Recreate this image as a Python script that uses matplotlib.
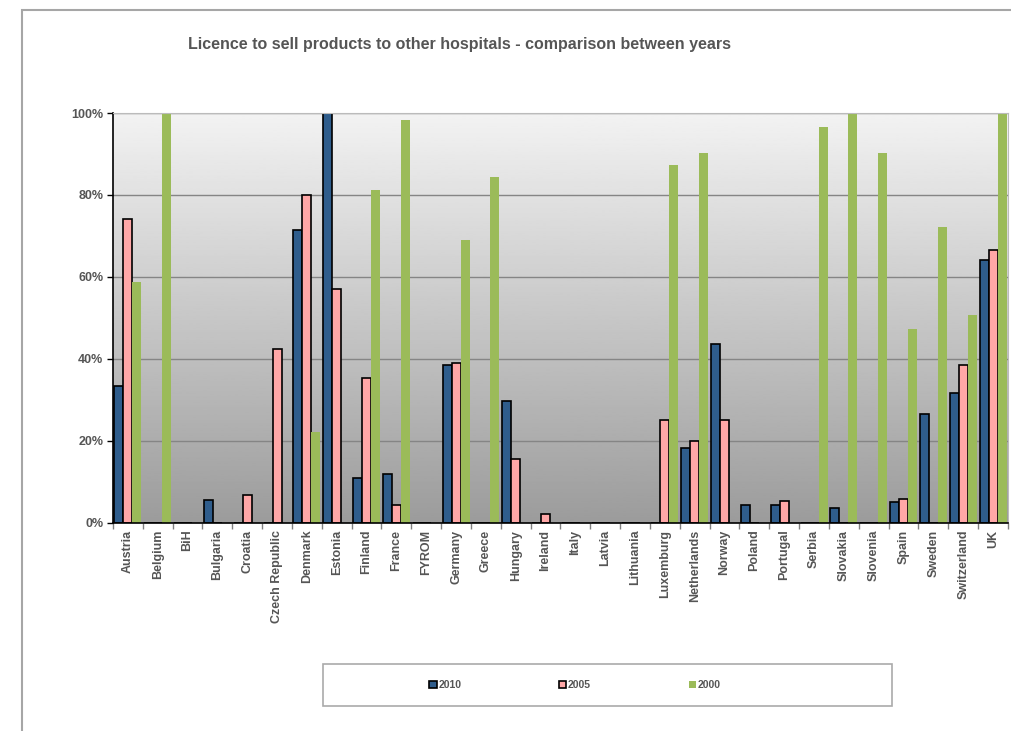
import numpy as np
import matplotlib.pyplot as plt
from matplotlib.patches import Rectangle
from matplotlib.ticker import FuncFormatter

plt.rcParams['font.family'] = ['Liberation Sans', 'DejaVu Sans']

# categories and values (percent)
countries = ['Austria', 'Belgium', 'BiH', 'Bulgaria', 'Croatia', 'Czech Republic',
             'Denmark', 'Estonia', 'Finland', 'France', 'FYROM', 'Germany', 'Greece',
             'Hungary', 'Ireland', 'Italy', 'Latvia', 'Lithuania', 'Luxemburg',
             'Netherlands', 'Norway', 'Poland', 'Portugal', 'Serbia', 'Slovakia',
             'Slovenia', 'Spain', 'Sweden', 'Switzerland', 'UK']
y2010 = [33.4, 0, 0, 5.5, 0, 0, 71.4, 100, 10.8, 12.0, 0, 38.4, 0, 29.7, 0, 0, 0, 0,
         0, 18.2, 43.7, 4.4, 4.2, 0, 3.5, 0, 5.1, 26.6, 31.6, 64.1]
y2005 = [74.2, 0, 0, 0, 6.8, 42.5, 80.0, 57.1, 35.3, 4.3, 0, 39.0, 0, 15.5, 2.1, 0, 0, 0,
         25.0, 20.0, 25.0, 0, 5.3, 0, 0, 0, 5.9, 0, 38.4, 66.6]
y2000 = [58.8, 100, 0, 0, 0, 0, 22.2, 0, 81.2, 98.4, 0, 69.1, 84.4, 0, 0, 0, 0, 0,
         87.2, 90.2, 0, 0, 0, 96.6, 100, 90.2, 47.2, 72.2, 50.7, 100]
years = ['2010', '2005', '2000']
colors = ['#2F5D8C', '#FFA7A7', '#9BBB59']

W, H = 1012, 731
fig = plt.figure(figsize=(W / 100, H / 100), dpi=100)
ax = fig.add_axes([113 / W, 1 - 522.7 / H, (1008 - 113) / W, (522.7 - 113) / H])

x = np.arange(len(countries))
bw = 0.3

# gradient background
grad = np.linspace(0.61, 0.95, 256).reshape(-1, 1)
ax.imshow(grad, cmap='gray', vmin=0, vmax=1, aspect='auto', origin='lower',
          extent=(-0.5, len(countries) - 0.5, 0, 100), zorder=0)

for i, (vals, c) in enumerate(zip([y2010, y2005, y2000], colors)):
    if i < 2:
        ax.bar(x + (i - 1) * bw, vals, bw, color=c, edgecolor='black', linewidth=1.2,
               label=years[i], zorder=3)
    else:
        ax.bar(x + (i - 1) * bw, vals, bw, color=c, linewidth=0, label=years[i], zorder=3)

ax.set_xlim(-0.5, len(countries) - 0.5)
ax.set_ylim(0, 100)
ax.set_yticks([0, 20, 40, 60, 80, 100])
ax.yaxis.set_major_formatter(FuncFormatter(lambda v, p: f'{v:.0f}%'))
ax.grid(axis='y', color='#858585', linewidth=1, zorder=1)
ax.set_axisbelow(False)

ax.set_xticks(x)
ax.set_xticklabels(countries, rotation=90)
ax.set_xticks(np.arange(-0.5, len(countries)), minor=True)
ax.tick_params(axis='x', which='major', length=0, pad=5)
ax.tick_params(axis='x', which='minor', length=4, color='#808080', width=1)
ax.tick_params(axis='y', length=4, width=1, pad=3)
for lab in ax.get_xticklabels() + ax.get_yticklabels():
    lab.set_fontsize(9)
    lab.set_fontweight('bold')
    lab.set_color('#555555')

ax.spines['left'].set_color('black')
ax.spines['left'].set_linewidth(1.2)
ax.spines['bottom'].set_color('black')
ax.spines['bottom'].set_linewidth(1.2)
ax.spines['top'].set_color('#BBBBBB')
ax.spines['right'].set_color('#BBBBBB')
for s in ax.spines.values():
    s.set_zorder(5)

fig.text(460 / W, 1 - 44 / H, 'Licence to sell products to other hospitals - comparison between years',
         ha='center', va='center', fontsize=11.5, fontweight='bold', color='#555555')

# outer chart frame and legend box
fig.patches.append(Rectangle((22.5 / W, -0.1), 2, 1 - 9.5 / H + 0.1, transform=fig.transFigure,
                             fill=False, edgecolor='#A6A6A6', linewidth=1.5))
fig.patches.append(Rectangle((323.5 / W, 1 - 706 / H), (892 - 323.5) / W, 42 / H,
                             transform=fig.transFigure, fill=False, edgecolor='#AAAAAA',
                             linewidth=1.2))

leg = fig.legend(loc='center left', bbox_to_anchor=(420 / W, 1 - 685 / H), ncol=3,
                 frameon=False, handlelength=0.7, handleheight=0.7, handletextpad=0.15,
                 columnspacing=9.4, prop={'size': 7.5, 'weight': 'bold'})
for t in leg.get_texts():
    t.set_color('#555555')

fig.savefig('out.png', dpi=100)
